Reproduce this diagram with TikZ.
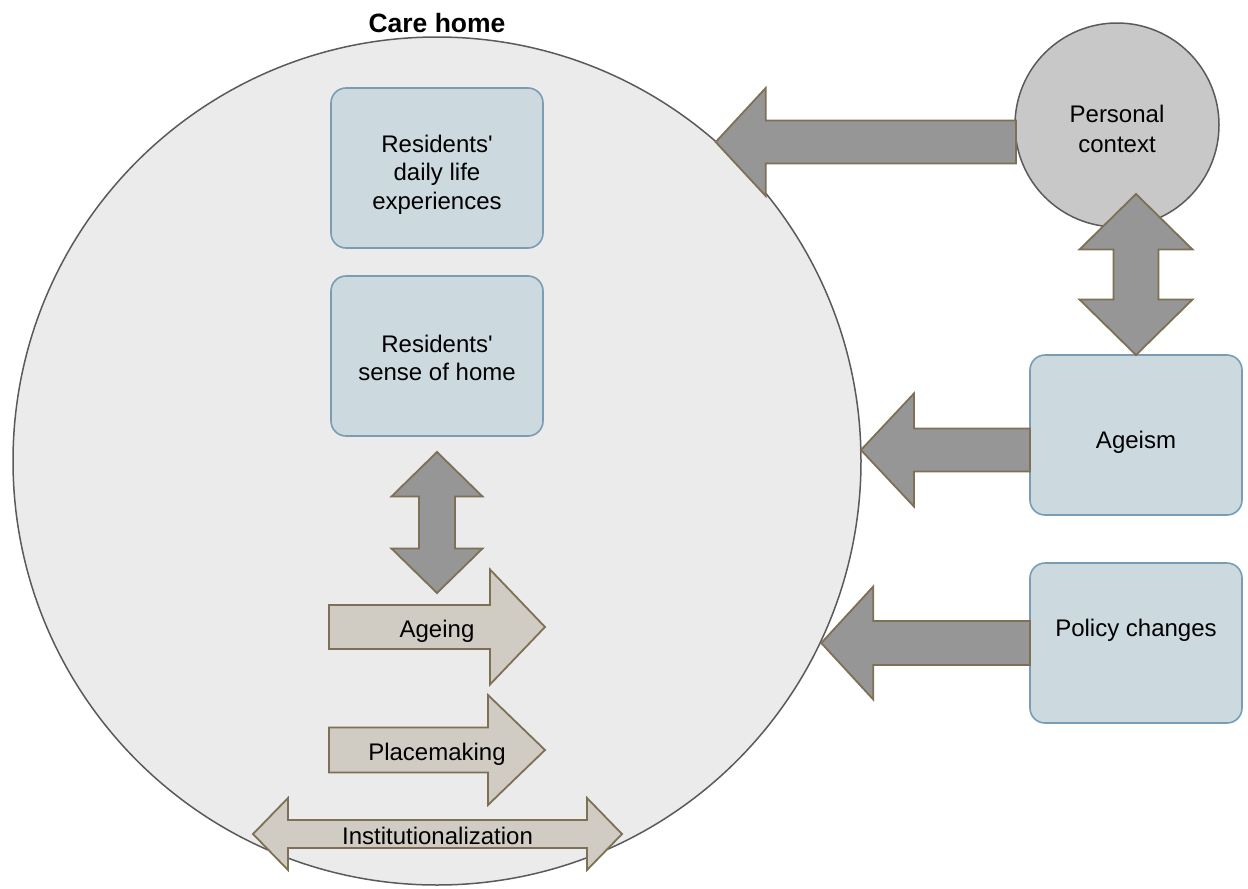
\documentclass[tikz,border=0pt]{standalone}
\usepackage{fontspec}
\setmainfont{Liberation Sans}
\usepackage{tikz}
\usetikzlibrary{calc,positioning}
\definecolor{homefill}{RGB}{235,235,235}
\definecolor{ringline}{RGB}{90,90,90}
\definecolor{ctxfill}{RGB}{200,200,200}
\definecolor{boxfill}{RGB}{204,217,223}
\definecolor{boxline}{RGB}{122,156,180}
\definecolor{arrowdark}{RGB}{150,150,150}
\definecolor{arrowlight}{RGB}{209,204,195}
\definecolor{arrowline}{RGB}{125,112,85}
\tikzstyle{homecircle} = [circle, draw=ringline, line width=1.5pt, fill=homefill, minimum size=848pt, inner sep=0pt, outer sep=0pt]
\tikzstyle{context} = [circle, draw=ringline, line width=1.5pt, fill=ctxfill, minimum size=204pt, inner sep=0pt, outer sep=0pt, align=center, font=\fontsize{24}{30}\selectfont]
\tikzstyle{factor} = [rectangle, rounded corners=15pt, draw=boxline, line width=1.6pt, fill=boxfill, minimum width=212pt, minimum height=160pt, outer sep=0pt, align=center, font=\fontsize{24}{28.5}\selectfont]
\tikzstyle{textonly} = [draw=none, fill=none, align=center, font=\fontsize{24}{27}\selectfont]
\tikzstyle{title} = [draw=none, fill=none, font=\bfseries\fontsize{26.5}{30}\selectfont]
\tikzstyle{darkarrow} = [draw=arrowline, line width=1.8pt, fill=arrowdark]
\tikzstyle{lightarrow} = [draw=arrowline, line width=1.8pt, fill=arrowlight]
% fat arrow: tail, tip, body half width, head half width, head length
\newcommand{\fatarrow}[6][]{%
  \coordinate (fa-h) at ($(#3)!#6!(#2)$);
  \draw[#1] ($(#2)!#4!90:(#3)$) -- ($(fa-h)!#4!90:(#3)$) -- ($(fa-h)!#5!90:(#3)$) -- (#3)
    -- ($(fa-h)!#5!-90:(#3)$) -- ($(fa-h)!#4!-90:(#3)$) -- ($(#2)!#4!-90:(#3)$) -- cycle;
}
% fat double arrow: tip, tip, body half width, head half width, head length
\newcommand{\fatdarrow}[6][]{%
  \coordinate (fa-a) at ($(#2)!#6!(#3)$);
  \coordinate (fa-b) at ($(#3)!#6!(#2)$);
  \draw[#1] (#2) -- ($(fa-a)!#5!90:(#3)$) -- ($(fa-a)!#4!90:(#3)$) -- ($(fa-b)!#4!90:(#3)$)
    -- ($(fa-b)!#5!90:(#3)$) -- (#3) -- ($(fa-b)!#5!-90:(#3)$) -- ($(fa-b)!#4!-90:(#3)$)
    -- ($(fa-a)!#4!-90:(#3)$) -- ($(fa-a)!#5!-90:(#3)$) -- cycle;
}
\begin{document}
\begin{tikzpicture}[x=1pt,y=-1pt]
\useasboundingbox (0,0) rectangle (1248,889);

% care home =============================
\node[homecircle] (care) at (437,461) {};
\node[title] (carelbl) at (437,23) {Care home};
\node[factor] (daily) at (437,168) {\rule{0pt}{30pt}Residents\textquotesingle\\daily life\\experiences};
\node[factor, below=28pt of daily] (sense) {\rule{0pt}{21pt}Residents\textquotesingle\\sense of home};

% outside factors
\node[context] (personal) at (1117,125) {\rule{0pt}{25pt}Personal\\context};
\node[factor] (ageism) at (1136,435) {\raisebox{-7pt}[\height][\depth]{Ageism}};
\node[factor, below=48pt of ageism] (policy) {\raisebox{13pt}[\height][\depth]{Policy changes}};

% edges
\coordinate (pcT) at ($(personal.west)+(1,17)$);
\coordinate (pcH) at ($(care.48.8 |- pcT)+(-5,0)$);
\fatarrow[darkarrow]{pcT}{pcH}{21.5pt}{54pt}{50pt}
\coordinate (agT) at ($(ageism.west)+(0,15)$);
\coordinate (agH) at (care.1.5 |- agT);
\fatarrow[darkarrow]{agT}{agH}{21.5pt}{56.5pt}{53pt}
\coordinate (poH) at (care.-25.4 |- policy.west);
\fatarrow[darkarrow]{policy.west}{poH}{22pt}{56.5pt}{52pt}
\coordinate (pcB) at ($(ageism.north |- personal.south)+(0,-33)$);
\fatdarrow[darkarrow]{pcB}{ageism.north}{22.5pt}{56.5pt}{55.5pt}
\coordinate (svA) at ($(sense.south)+(0,16)$);
\coordinate (svB) at ($(svA)+(0,141)$);
\fatdarrow[darkarrow]{svA}{svB}{18pt}{45.5pt}{44.5pt}

% processes
\coordinate (agnA) at (329,627);
\coordinate (agnB) at (545,627);
\fatarrow[lightarrow]{agnA}{agnB}{22pt}{57.5pt}{55pt}
\node[textonly] (ageing) at ($(agnA)!0.5!(agnB)+(0,4)$) {Ageing};
\coordinate (plcA) at (329,750);
\coordinate (plcB) at (545,750);
\fatarrow[lightarrow]{plcA}{plcB}{22.5pt}{55pt}{57pt}
\node[textonly] (placemaking) at ($(plcA)!0.5!(plcB)+(0,4)$) {Placemaking};
\coordinate (insA) at (253,834);
\coordinate (insB) at (622,834);
\fatdarrow[lightarrow]{insA}{insB}{14pt}{36pt}{35pt}
\node[textonly] (institution) at ($(insA)!0.5!(insB)+(0,2)$) {Institutionalization};

\end{tikzpicture}
\end{document}
